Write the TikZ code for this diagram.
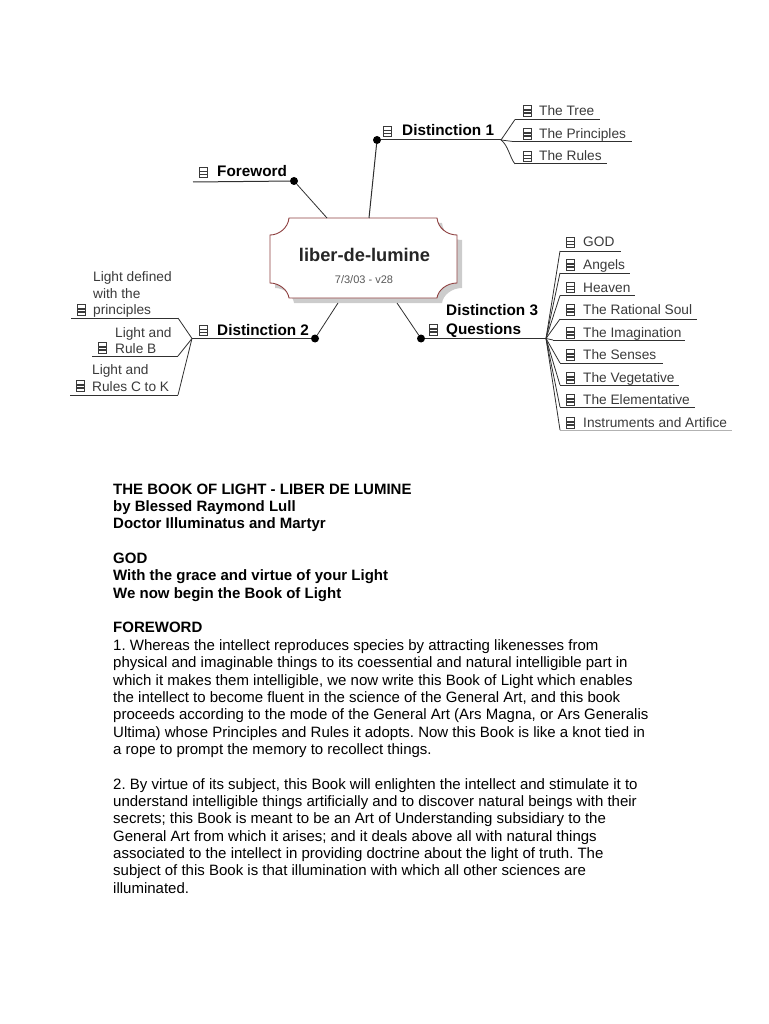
\documentclass[tikz,border=0pt]{standalone}
\usepackage{fontspec}
\setmainfont{Liberation Sans}
\usepackage{xcolor}
\usetikzlibrary{calc,positioning}
\definecolor{plaquered}{HTML}{8E4040}
\definecolor{plaqueshadow}{HTML}{CCCCCC}
\definecolor{leafink}{HTML}{3A3A3A}
\definecolor{twigink}{HTML}{303030}
\newcommand{\plaqueoutline}{(289,218) -- (437,218) .. controls (438,228) and (447,235) .. (457,235) -- (457,283) .. controls (447,283) and (438,290) .. (437,298) -- (289,298) .. controls (288,290) and (279,283) .. (270,283) -- (270,235) .. controls (279,235) and (288,228) .. (289,218) -- cycle}
\frenchspacing

\begin{document}
\begin{tikzpicture}[
    x=1pt, y=-1pt,
    branch/.style={anchor=west, inner sep=0pt, text height=10pt, text depth=3pt, font=\fontsize{15.3}{18.5}\selectfont\bfseries},
    leaf/.style={anchor=west, inner sep=0pt, text height=10pt, text depth=3pt, text=leafink, font=\fontsize{13.7}{16.5}\selectfont},
    leafstack/.style={anchor=south west, inner sep=0pt, align=left, text=leafink, font=\fontsize{13.7}{16.5}\selectfont},
    docicon/.style={draw=leafink, fill=white, line width=1pt, yshift=1pt, minimum width=8pt, minimum height=10.5pt, inner sep=0pt,
        path picture={
            \draw[leafink, line width=1.4pt] ($(path picture bounding box.center)+(-4,-1)$) -- ++(8,0);
            \draw[leafink, line width=1.4pt] ($(path picture bounding box.center)+(-4,2)$) -- ++(8,0);
        }},
    knot/.style={circle, fill=black, inner sep=0pt, minimum size=8pt},
    rule/.style={draw=twigink, line width=1pt},
    twig/.style={draw=twigink, line width=.8pt},
    stem/.style={draw=twigink, line width=1pt},
    body/.style={anchor=north west, inner sep=0pt, align=left, font=\fontsize{15}{17.35}\selectfont}
]
\useasboundingbox (0,0) rectangle (768,1024);

% Central plaque with its drop shadow.
\fill[plaqueshadow, shift={(5,5)}] \plaqueoutline;
\draw[plaquered, fill=white, line width=.9pt] \plaqueoutline;
\node[inner sep=0pt, font=\fontsize{18.3}{20}\selectfont\bfseries, text=black!85] (root) at (364.5,255) {liber-de-lumine};
\node[inner sep=0pt, font=\fontsize{11}{12}\selectfont, text=black!65] (version) at (364,280) {7/3/03 - v28};
\coordinate (rootfore) at (327,218);
\coordinate (rootone) at (369,218);
\coordinate (roottwo) at (338,303);
\coordinate (rootthree) at (397,303);

% First level topics.
\node[knot] (knotfore) at (294,181) {};
\node[knot] (knotone) at (377,140) {};
\node[knot] (knottwo) at (315,338.5) {};
\node[knot] (knotthree) at (421,338.5) {};
\draw[twig] (knotfore) -- (rootfore);
\draw[stem] (knotone) -- (rootone);
\draw[twig] (knottwo) -- (roottwo);
\draw[twig] (knotthree) -- (rootthree);

\node[branch] (foreword) at (217,173.5) {Foreword};
\node[docicon, left=9pt of foreword] (iconfore) {};
\coordinate (forestart) at (193,182);
\draw[rule] (forestart) -- (knotfore);

\node[branch] (distone) at (402,132.5) {Distinction 1};
\node[docicon, left=10pt of distone] (iconone) {};
\coordinate (forkone) at (501,140);
\draw[rule] (knotone) -- (forkone);

\node[branch] (disttwo) at (217,331.5) {Distinction 2};
\node[docicon, left=9pt of disttwo] (icontwo) {};
\coordinate (forktwo) at (192,338.5);
\draw[rule] (knottwo) -- (forktwo);

\node[branch, anchor=south west, align=left, text height=, text depth=] (distthree) at (446,337.5) {Distinction 3\\Questions};
\node[docicon] (iconthree) at (433,331) {};
\coordinate (forkthree) at (546,338.5);
\draw[rule] (knotthree) -- (forkthree);

% Leaves of Distinction 1.
\node[leaf] (tree) at (539,112) {The Tree};
\node[leaf] (principles) at (539,135) {The Principles};
\node[leaf] (rules) at (539,157.5) {The Rules};
\node[docicon, left=7pt of tree] (icontree) {};
\node[docicon, left=7pt of principles] (iconprinciples) {};
\node[docicon, left=7pt of rules] (iconrules) {};
\coordinate (treeleft) at (515,119.5);
\coordinate (treeright) at (600,119.5);
\coordinate (principlesleft) at (513,141.5);
\coordinate (principlesright) at (632,141.5);
\coordinate (rulesleft) at (515,164);
\coordinate (rulesright) at (607,164);
\draw[rule] (treeleft) -- (treeright);
\draw[rule] (principlesleft) -- (principlesright);
\draw[rule] (rulesleft) -- (rulesright);
\draw[twig] (forkone) -- (treeleft);
\draw[twig] (forkone) -- (principlesleft);
\draw[twig] (forkone) .. controls (508,145) and (510,158) .. (rulesleft);

% Leaves of Distinction 2.
\node[leafstack] (lightdefined) at (93,318) {Light defined\\with the\\principles};
\node[leafstack] (lightb) at (115,354) {Light and\\Rule B};
\node[leafstack] (lightc) at (92,391.5) {Light and\\Rules C to K};
\node[docicon] (icondefined) at (81,311) {};
\node[docicon] (iconb) at (102,349) {};
\node[docicon] (iconc) at (80,387) {};
\coordinate (definedleft) at (71,318);
\coordinate (definedright) at (178,318);
\coordinate (bleft) at (92,356);
\coordinate (bright) at (178,356);
\coordinate (cleft) at (70,395);
\coordinate (cright) at (178,395);
\draw[rule] (definedleft) -- (definedright);
\draw[rule] (bleft) -- (bright);
\draw[rule] (cleft) -- (cright);
\draw[twig] (forktwo) -- (definedright);
\draw[twig] (forktwo) -- (bright);
\draw[twig] (forktwo) -- (cright);

% Leaves of Distinction 3.
\node[leaf] (god) at (583,243.5) {GOD};
\node[leaf] (angels) at (583,266) {Angels};
\node[leaf] (heaven) at (583,288.5) {Heaven};
\node[leaf] (soul) at (583,311) {The Rational Soul};
\node[leaf] (imagination) at (583,334) {The Imagination};
\node[leaf] (senses) at (583,356) {The Senses};
\node[leaf] (vegetative) at (583,379) {The Vegetative};
\node[leaf] (elementative) at (583,401) {The Elementative};
\node[leaf] (instruments) at (583,424) {Instruments and Artifice};
\node[docicon, left=8pt of god] (icongod) {};
\node[docicon, left=8pt of angels] (iconangels) {};
\node[docicon, left=8pt of heaven] (iconheaven) {};
\node[docicon, left=8pt of soul] (iconsoul) {};
\node[docicon, left=8pt of imagination] (iconimagination) {};
\node[docicon, left=8pt of senses] (iconsenses) {};
\node[docicon, left=8pt of vegetative] (iconvegetative) {};
\node[docicon, left=8pt of elementative] (iconelementative) {};
\node[docicon, left=8pt of instruments] (iconinstruments) {};
\coordinate (godleft) at (560,251);
\coordinate (godright) at (621,251);
\coordinate (angelsleft) at (560,273);
\coordinate (angelsright) at (630,273);
\coordinate (heavenleft) at (560,295.5);
\coordinate (heavenright) at (635,295.5);
\coordinate (soulleft) at (560,319);
\coordinate (soulright) at (697,319);
\coordinate (imaginationleft) at (553,340);
\coordinate (imaginationright) at (685,340);
\coordinate (sensesleft) at (560,363);
\coordinate (sensesright) at (663,363);
\coordinate (vegetativeleft) at (560,385);
\coordinate (vegetativeright) at (679,385);
\coordinate (elementativeleft) at (560,407);
\coordinate (elementativeright) at (695,407);
\coordinate (instrumentsleft) at (560,430);
\coordinate (instrumentsright) at (732,430);
\draw[rule] (godleft) -- (godright);
\draw[rule] (angelsleft) -- (angelsright);
\draw[rule] (heavenleft) -- (heavenright);
\draw[rule] (soulleft) -- (soulright);
\draw[rule] (imaginationleft) -- (imaginationright);
\draw[rule] (sensesleft) -- (sensesright);
\draw[rule] (vegetativeleft) -- (vegetativeright);
\draw[rule] (elementativeleft) -- (elementativeright);
\draw[rule, draw=black!30] (instrumentsleft) -- (instrumentsright);
\draw[twig] (forkthree) -- (godleft);
\draw[twig] (forkthree) -- (angelsleft);
\draw[twig] (forkthree) -- (heavenleft);
\draw[twig] (forkthree) -- (soulleft);
\draw[twig] (forkthree) -- (imaginationleft);
\draw[twig] (forkthree) -- (sensesleft);
\draw[twig] (forkthree) -- (vegetativeleft);
\draw[twig] (forkthree) -- (elementativeleft);
\draw[twig] (forkthree) -- (instrumentsleft);

% Page text below the map.
\node[body] (pagetext) at (113,483.5) {\textbf{THE BOOK OF LIGHT - LIBER DE LUMINE}\\
\textbf{by Blessed Raymond Lull}\\
\textbf{Doctor Illuminatus and Martyr}\\[17.35pt]
\textbf{GOD}\\
\textbf{With the grace and virtue of your Light}\\
\textbf{We now begin the Book of Light}\\[17.35pt]
\textbf{FOREWORD}\\
1. Whereas the intellect reproduces species by attracting likenesses from\\
physical and imaginable things to its coessential and natural intelligible part in\\
which it makes them intelligible, we now write this Book of Light which enables\\
the intellect to become fluent in the science of the General Art, and this book\\
proceeds according to the mode of the General Art (Ars Magna, or Ars Generalis\\
Ultima) whose Principles and Rules it adopts. Now this Book is like a knot tied in\\
a rope to prompt the memory to recollect things.\\[17.35pt]
2. By virtue of its subject, this Book will enlighten the intellect and stimulate it to\\
understand intelligible things artificially and to discover natural beings with their\\
secrets; this Book is meant to be an Art of Understanding subsidiary to the\\
General Art from which it arises; and it deals above all with natural things\\
associated to the intellect in providing doctrine about the light of truth. The\\
subject of this Book is that illumination with which all other sciences are\\
illuminated.};
\end{tikzpicture}
\end{document}
